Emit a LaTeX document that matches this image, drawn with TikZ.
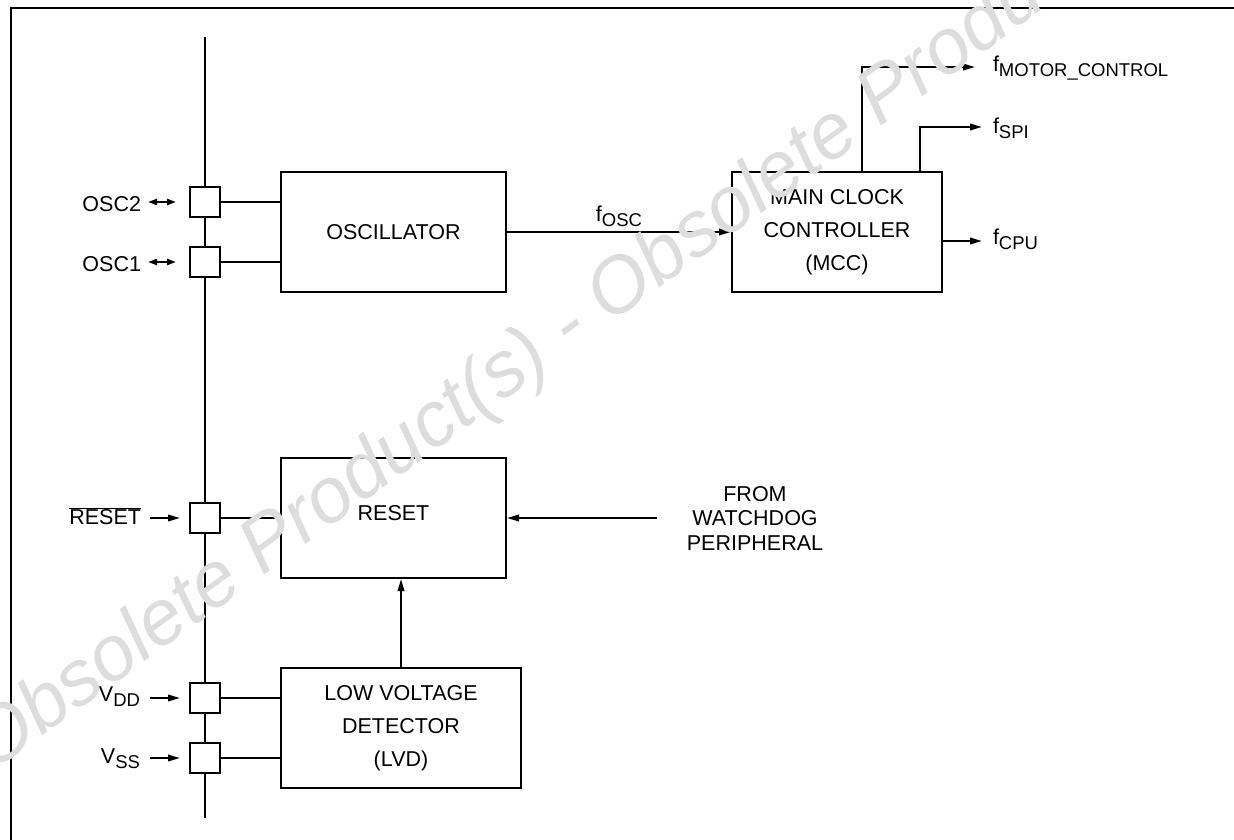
\documentclass[tikz,border=0pt]{standalone}
\usepackage{fontspec}
\setmainfont{Liberation Sans}
\usetikzlibrary{arrows.meta}
\definecolor{wmgray}{RGB}{221,221,221}
\newcommand{\sbs}[1]{\raisebox{-5pt}{\fontsize{18.5}{19}\selectfont #1}}
\begin{document}
\begin{tikzpicture}[x=1pt,y=-1pt, line width=2pt,
  txt/.style={font=\fontsize{21.5}{33}\selectfont, inner sep=0pt},
  blk/.style={draw, fill=white, line width=2pt, align=center, inner sep=0pt, font=\fontsize{21.5}{33}\selectfont},
  pinbox/.style={draw, fill=white, minimum width=30pt, minimum height=30pt, inner sep=0pt},
  arr/.style={-{Triangle[length=12pt,width=6.5pt]}},
  darr/.style={{Triangle[length=9pt,width=6pt]}-{Triangle[length=9pt,width=6pt]}}]
\useasboundingbox (0,0) rectangle (1234,840);
\clip (0,0) rectangle (1234,840);
% frame
\draw (11,845) -- (11,8) -- (1240,8);
% bus
\coordinate (bt) at (205,37);
\coordinate (bb) at (205,818);
\draw (bt) -- (bb);
% pins
\node[pinbox] (posc2) at (205,202) {};
\node[pinbox] (posc1) at (205,262) {};
\node[pinbox] (prst) at (205,518) {};
\node[pinbox] (pvdd) at (205,698) {};
\node[pinbox] (pvss) at (205,758) {};
% blocks
\node[blk, minimum width=225pt, minimum height=120pt] (osc) at (393.5,232) {OSCILLATOR};
\node[blk, minimum width=210pt, minimum height=120pt] (mcc) at (837,232) {MAIN CLOCK\\CONTROLLER\\(MCC)};
\node[blk, minimum width=225pt, minimum height=120pt] (rst) at (393.5,518) {};
\node[txt] (rstt) at (393.5,513) {RESET};
\node[blk, minimum width=240pt, minimum height=120pt] (lvd) at (401,728) {LOW VOLTAGE\\DETECTOR\\(LVD)};
% pin connections
\draw (posc2.east) -- (posc2.east -| osc.west);
\draw (posc1.east) -- (posc1.east -| osc.west);
\draw (prst.east) -- (prst.east -| rst.west);
\draw (pvdd.east) -- (pvdd.east -| lvd.west);
\draw (pvss.east) -- (pvss.east -| lvd.west);
% oscillator to MCC
\draw[arr] (osc.east) -- (mcc.west);
\node[txt, anchor=south] (fosc) at (619,228) {f\sbs{OSC}};
% MCC outputs
\coordinate (m1) at (862,67);
\coordinate (motor) at (975,67);
\draw[arr] (mcc.north -| m1) -- (m1) -- (motor);
\node[txt, anchor=west] (fmotor) at (992,68) {f\sbs{MOTOR\_CONTROL}};
\coordinate (s1) at (920,127);
\coordinate (spi) at (982,127);
\draw[arr] (mcc.north -| s1) -- (s1) -- (spi);
\node[txt, anchor=west] (fspi) at (992,128) {f\sbs{SPI}};
\coordinate (cpu) at (982,241);
\draw[arr] (mcc.east |- cpu) -- (cpu);
\node[txt, anchor=west] (fcpu) at (992,239) {f\sbs{CPU}};
% left labels
\coordinate (a2s) at (148,202);
\coordinate (a2e) at (176,202);
\draw[darr] (a2s) -- (a2e);
\node[txt, anchor=east] (losc2) at (142,204) {OSC2};
\coordinate (a1s) at (148,262);
\coordinate (a1e) at (176,262);
\draw[darr] (a1s) -- (a1e);
\node[txt, anchor=east] (losc1) at (142,264) {OSC1};
\coordinate (ar) at (150,518);
\draw[arr, shorten >=9pt] (ar) -- (prst.west);
\node[txt, anchor=east] (lrst) at (142,516) {$\overline{\mbox{RESET}}$};
\coordinate (av) at (150,698);
\draw[arr, shorten >=9pt] (av) -- (pvdd.west);
\node[txt, anchor=east] (lvdd) at (141,697) {V\sbs{DD}};
\coordinate (as) at (150,758);
\draw[arr, shorten >=9pt] (as) -- (pvss.west);
\node[txt, anchor=east] (lvss) at (141,759) {V\sbs{SS}};
% watchdog
\coordinate (wd) at (657,518);
\draw[arr] (wd) -- (rst.east);
\node[align=center, inner sep=0pt, font=\fontsize{21.5}{24.5}\selectfont] (wdt) at (755,518) {FROM\\WATCHDOG\\PERIPHERAL};
% LVD to RESET
\draw[arr] (lvd.north) -- (lvd.north |- rst.south);
% watermark
\node[rotate=36, text=wmgray, inner sep=0pt, font=\fontsize{78}{78}\selectfont\itshape] (wm) at (570,328) {Obsolete Product(s) - Obsolete Product(s)};
\end{tikzpicture}
\end{document}
